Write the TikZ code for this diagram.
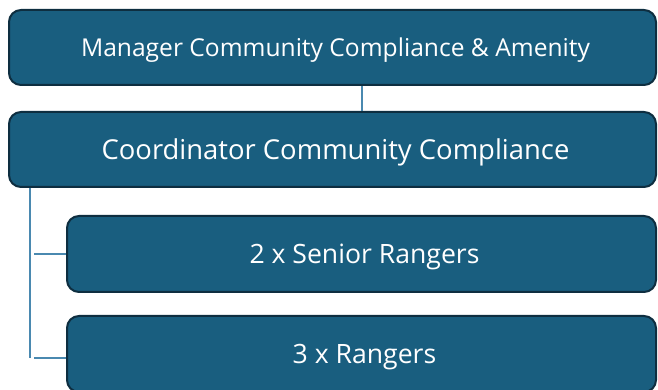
\documentclass[tikz,border=0pt]{standalone}
\usepackage{fontspec}
\setmainfont{Open Sans}
\definecolor{boxfill}{HTML}{195E7F}
\definecolor{boxedge}{HTML}{0E2E40}
\definecolor{connline}{HTML}{4A89B0}
\begin{document}
\begin{tikzpicture}[x=1pt,y=1pt,
  orgbox/.style={draw=boxedge, fill=boxfill, line width=2pt, rounded corners=12pt,
    text=white, inner sep=0pt, text depth=0pt, anchor=center},
  conn/.style={draw=connline, line width=1.3pt}]
\useasboundingbox (0,0) rectangle (658,390);
\node[orgbox, minimum width=647pt, minimum height=75pt, font=\fontsize{24.6}{28}\selectfont] (n1) at (332.5,342.5) {\hspace{6pt}Manager Community Compliance \& Amenity};
\node[orgbox, minimum width=647pt, minimum height=75pt, font=\fontsize{27.4}{31}\selectfont] (n2) at (332.5,240.5) {\hspace{6pt}Coordinator Community Compliance};
\node[orgbox, minimum width=589pt, minimum height=76pt, font=\fontsize{26.6}{30}\selectfont] (n3) at (361.5,136) {\hspace{6pt}2 x Senior Rangers};
\node[orgbox, minimum width=589pt, minimum height=76pt, font=\fontsize{26.6}{30}\selectfont] (n4) at (361.5,36) {\hspace{6pt}3 x Rangers};
\coordinate (v) at (30,32);
\draw[conn] ([xshift=29.5pt]n1.south) -- ([xshift=29.5pt]n2.north);
\draw[conn] (n2.south -| v) -- (v);
\draw[conn] ([xshift=4pt]n3.west -| v) -- (n3.west);
\draw[conn] ([xshift=4pt]v) -- (v -| n4.west);
\end{tikzpicture}
\end{document}
